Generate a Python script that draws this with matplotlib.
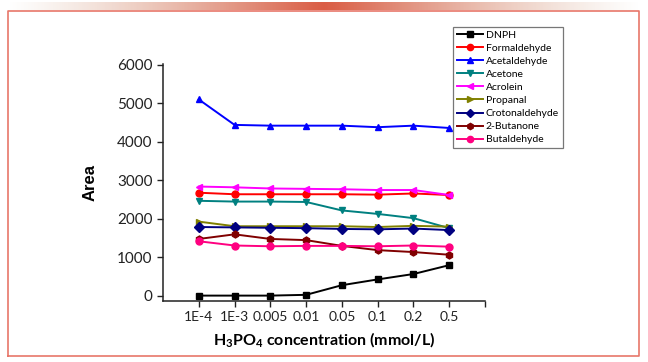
import numpy as np
import matplotlib
matplotlib.use("Agg")
import matplotlib.pyplot as plt

# concentrations of H3PO4 (categorical axis)
conc_labels = ["1E-4", "1E-3", "0.005", "0.01", "0.05", "0.1", "0.2", "0.5"]

# peak areas
dnph = [10, 10, 10, 30, 280, 430, 570, 800]
formaldehyde = [2680, 2640, 2640, 2640, 2640, 2630, 2660, 2620]
acetaldehyde = [5100, 4440, 4420, 4420, 4420, 4380, 4420, 4360]
acetone = [2470, 2450, 2450, 2440, 2220, 2130, 2020, 1760]
acrolein = [2840, 2820, 2790, 2780, 2770, 2750, 2750, 2620]
propanal = [1930, 1810, 1810, 1810, 1810, 1790, 1820, 1800]
crotonaldehyde = [1790, 1780, 1770, 1760, 1740, 1730, 1750, 1710]
butanone = [1480, 1600, 1480, 1450, 1300, 1190, 1140, 1070]
butaldehyde = [1420, 1310, 1290, 1300, 1300, 1290, 1310, 1280]

series = [
    ("DNPH", dnph, "black", "s"),
    ("Formaldehyde", formaldehyde, "#ff0000", "o"),
    ("Acetaldehyde", acetaldehyde, "#0000ff", "^"),
    ("Acetone", acetone, "#008080", "v"),
    ("Acrolein", acrolein, "#ff00ff", "<"),
    ("Propanal", propanal, "#808000", ">"),
    ("Crotonaldehyde", crotonaldehyde, "#000080", "D"),
    ("2-Butanone", butanone, "#800000", "h"),
    ("Butaldehyde", butaldehyde, "#ff0080", "o"),
]

plt.rcParams['font.family'] = ['Lato', 'DejaVu Sans']
plt.rcParams['mathtext.fontset'] = 'custom'
plt.rcParams['mathtext.rm'] = 'Lato:bold'
plt.rcParams['mathtext.it'] = 'Lato:bold'
plt.rcParams['mathtext.bf'] = 'Lato:bold'

fig = plt.figure(figsize=(6.48, 3.62), dpi=100)
fig.patch.set_facecolor("white")

# decorative frame and top gradient bar
deco = fig.add_axes([0, 0, 1, 1], zorder=-5)
deco.set_xlim(0, 648)
deco.set_ylim(362, 0)
deco.axis("off")
grad = np.linspace(-1, 1, 400)
alpha = np.clip(1 - np.abs(grad) ** 1.2, 0, 1)
rgba = np.zeros((1, 400, 4))
rgba[..., 0] = 0.85
rgba[..., 1] = 0.33 + 0.4 * np.abs(grad)
rgba[..., 2] = 0.23 + 0.4 * np.abs(grad)
rgba[..., 3] = alpha * 0.95
deco.imshow(rgba, extent=[8, 640, 10, 2], aspect="auto")
deco.plot([8, 8, 639, 639, 8], [356, 11, 11, 356, 356], color="#e8776a", lw=1.2)

ax = fig.add_axes([163 / 648, 61 / 362, 322 / 648, 237 / 362])
x = np.arange(len(conc_labels))
for name, vals, col, mk in series:
    ax.plot(x, vals, color=col, marker=mk, markersize=5, lw=1.4, label=name)

ax.set_xlim(-1, 8)
ax.set_ylim(-130, 6020)
ax.set_xticks(list(x) + [8])
ax.set_xticklabels(conc_labels + [""])
ax.set_yticks([0, 1000, 2000, 3000, 4000, 5000, 6000])
ax.tick_params(labelsize=11, direction="out", length=4, width=1, colors="#222222")
ax.tick_params(axis="x", labelsize=10)
ax.spines["top"].set_visible(False)
ax.spines["right"].set_visible(False)
for s in ("left", "bottom"):
    ax.spines[s].set_linewidth(1.1)
    ax.spines[s].set_color("#222222")
ax.set_ylabel("Area", fontsize=12, fontweight="bold", family=["Liberation Sans", "DejaVu Sans"], labelpad=14)
ax.set_xlabel(r"H$_3$PO$_4$ concentration (mmol/L)", fontsize=11.5, fontweight="bold", labelpad=5)

leg = ax.legend(loc="upper left", bbox_to_anchor=(453 / 648, 1 - 27 / 362),
                bbox_transform=fig.transFigure, fontsize=7.5, frameon=True,
                fancybox=False, edgecolor="#555555", handlelength=2.5,
                handletextpad=0.3, labelspacing=0.36, borderpad=0.35,
                borderaxespad=0, markerscale=0.9)
leg.get_frame().set_linewidth(0.9)

fig.savefig("out.png", dpi=100, facecolor="white")
